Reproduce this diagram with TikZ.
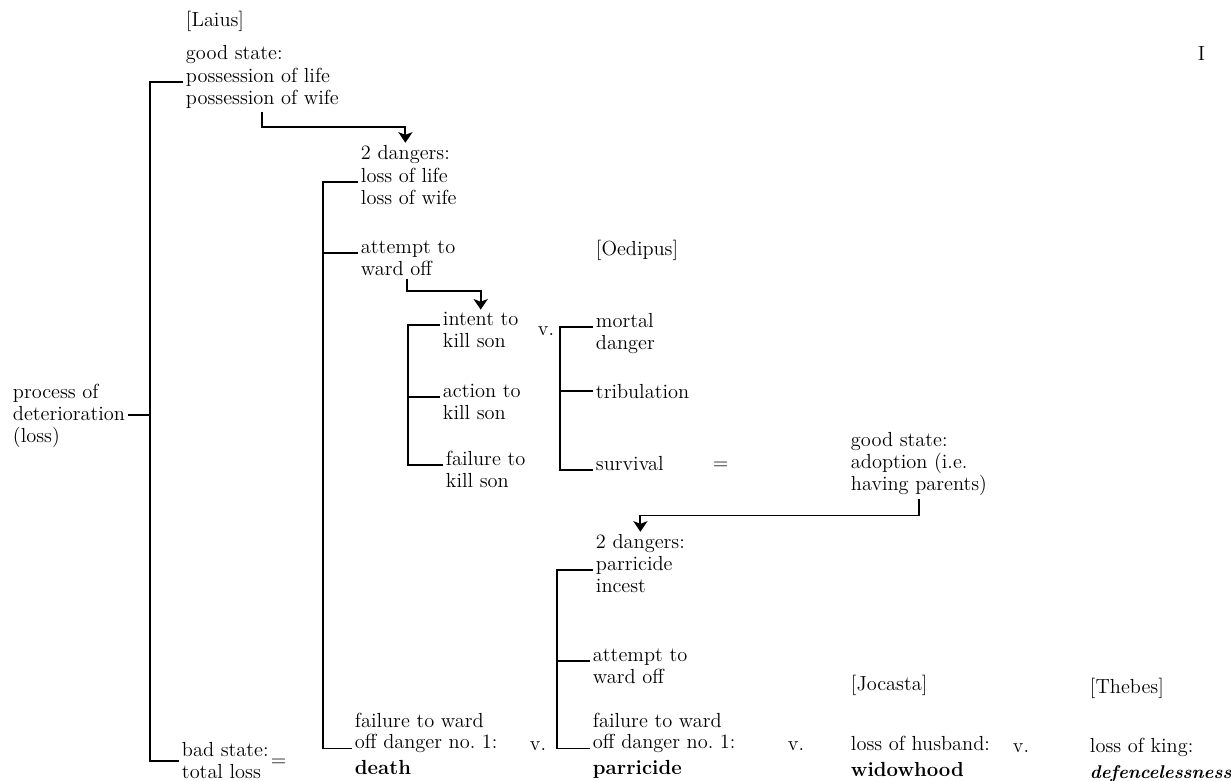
\documentclass[tikz,border=0pt]{standalone}
\usetikzlibrary{arrows.meta}

\begin{document}
\begin{tikzpicture}[x=0.02cm, y=-0.02cm]
        \tikzstyle{every node}=[inner xsep=1.5pt, inner ysep=0pt, anchor=base west, align=left, font=\fontsize{11.6}{12.5}\selectfont]
        \tikzstyle{brace}=[line width=1.1pt]
        \tikzstyle{flow}=[line width=1.1pt, -{Stealth[length=6pt, width=8pt, inset=1.5pt]}, shorten <=2pt, shorten >=1pt]
        \useasboundingbox (0,0) rectangle (1231,781);
        % Laius (nodes sit on the baseline of their last line)
        \node (laius) at (183,27) {[Laius]};
        \node (good1) at (183,59) {good state:};
        \node (life1) at (183,104) {possession of life\\possession of wife};
        \node (dang1) at (358,159) {2 dangers:};
        \node (loss1) at (358,204) {loss of life\\loss of wife};
        \node (ward1) at (358,275) {attempt to\\ward off};
        \node (proc) at (10,442) {process of\\deterioration\\(loss)};
        \node (bad) at (179,778) {bad state:\\total loss};
        \node (eq2) at (268,766) {=};
        \node (fail2) at (352,727) {failure to ward};
        \node (off1) at (352,774) {off danger no.\ 1:\\[2pt]\textbf{death}};
        \node (vs2) at (527,750) {v.};
        % Oedipus
        \node (oedipus) at (593,255) {[Oedipus]};
        \node (intent) at (440,347) {intent to\\kill son};
        \node (action) at (440,419) {action to\\kill son};
        \node (fail1) at (443,487) {failure to\\kill son};
        \node (vs1) at (535,335) {v.};
        \node (mortal) at (593,349) {mortal\\danger};
        \node (tribul) at (593,398) {tribulation};
        \node (surviv) at (593,470) {survival};
        \node (eq1) at (710,469) {=};
        \node (good2) at (848,490) {good state:\\adoption (i.e.\\having parents)};
        \node (dang2) at (593,548) {2 dangers:};
        \node (risk2) at (593,592) {parricide\\incest};
        \node (ward2) at (590,683) {attempt to\\ward off};
        \node (fail3) at (590,727) {failure to ward};
        \node (off2) at (590,774) {off danger no.\ 1:\\[2pt]\textbf{parricide}};
        \node (vs3) at (785,750) {v.};
        % Jocasta, Thebes
        \node (jocasta) at (848,690) {[Jocasta]};
        \node (husband) at (848,776) {loss of husband:\\[2pt]\textbf{widowhood}};
        \node (vs4) at (1010,752) {v.};
        \node (thebes) at (1087,693) {[Thebes]};
        \node (king) at (1087,778) {loss of king:\\[2pt]{\fontsize{10.5}{12.5}\selectfont\bfseries\itshape defencelessness}};
        \node (numI) at (1195,60) {I};

        % brackets
        \coordinate (s1) at (150,400);
        \draw[brace] ([yshift=12.5pt]life1.base west) -| (s1) |- ([yshift=9.5pt]bad.base west);
        \draw[brace] (proc.east) -- (proc.east -| s1);
        \coordinate (s2) at (323,400);
        \draw[brace] ([yshift=12.5pt]loss1.base west) -| (s2) |- ([yshift=14.5pt]off1.base west);
        \draw[brace] ([yshift=12.5pt]ward1.base west) -- ([yshift=12.5pt]ward1.base west -| s2);
        \coordinate (s4) at (408,400);
        \draw[brace] ([yshift=12.5pt]intent.base west) -| (s4) |- ([yshift=12.5pt]fail1.base west);
        \draw[brace] ([yshift=12.5pt]action.base west) -- ([yshift=12.5pt]action.base west -| s4);
        \coordinate (s5) at (560,400);
        \draw[brace] ([yshift=12.5pt]mortal.base west) -| (s5) |- (surviv.base west);
        \draw[brace] (tribul.west) -- (tribul.west -| s5);
        \coordinate (s3) at (557,650);
        \draw[brace] ([yshift=12.5pt]risk2.base west) -| (s3) |- ([yshift=14.5pt]off2.base west);
        \draw[brace] ([yshift=12.5pt]ward2.base west) -- ([yshift=12.5pt]ward2.base west -| s3);

        % arrows
        \draw[flow] (life1.south) -- ++(0,19) -| (dang1.north);
        \draw[flow] ([xshift=0.98cm]ward1.south west) -- ++(0,15) -| (intent.north);
        \draw[flow] (good2.south) -- ++(0,20) -| (dang2.north);
    \end{tikzpicture}
\end{document}
